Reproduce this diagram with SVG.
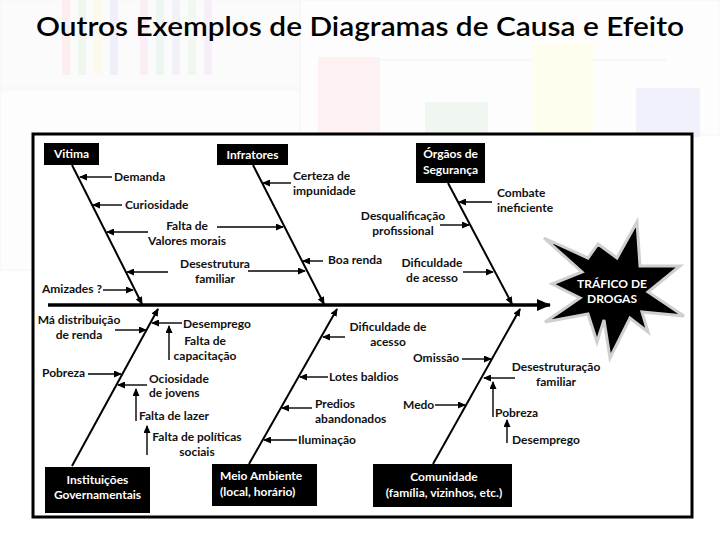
<svg xmlns="http://www.w3.org/2000/svg" width="720" height="540" viewBox="0 0 720 540">
<style>
.t{font-family:Lato,"Open Sans","Liberation Sans",sans-serif;font-weight:700;font-size:12px;fill:#111}
.c{text-anchor:middle}
.w{font-family:Lato,"Open Sans","Liberation Sans",sans-serif;font-weight:700;font-size:12px;fill:#fff}
.box{fill:#000}
.bone{stroke:#000;stroke-width:2;fill:none}
.ar{stroke:#000;stroke-width:1.4;fill:none;marker-end:url(#a)}
</style>
<defs>
<marker id="a" markerUnits="userSpaceOnUse" markerWidth="8" markerHeight="7" refX="7" refY="3.5" orient="auto"><path d="M0,0 L8,3.5 L0,7 z" fill="#000"/></marker>
<marker id="big" markerUnits="userSpaceOnUse" markerWidth="14" markerHeight="12" refX="13" refY="6" orient="auto"><path d="M0,0 L14,6 L0,12 z" fill="#000"/></marker>
</defs>
<rect width="720" height="540" fill="#fff"/>
<g id="background" opacity="0.6">
<rect x="0" y="0" width="300" height="88" fill="#fafafa" stroke="#eee"/>
<rect x="62" y="0" width="8" height="75" fill="#fbe3e3"/><rect x="78" y="0" width="8" height="75" fill="#e3f1e3"/><rect x="94" y="0" width="8" height="75" fill="#fbf7dd"/><rect x="110" y="0" width="8" height="75" fill="#e5e5f7"/><rect x="140" y="0" width="8" height="75" fill="#fbe3f1"/><rect x="156" y="0" width="8" height="75" fill="#e3f1ee"/><rect x="172" y="0" width="8" height="75" fill="#e9e9f3"/><rect x="188" y="0" width="8" height="75" fill="#e6f3e3"/><rect x="204" y="0" width="8" height="75" fill="#f3e6f3"/>
<rect x="0" y="90" width="300" height="180" fill="#fdfdfd" stroke="#eee"/>
<rect x="300" y="0" width="420" height="135" fill="#fdfdfd" stroke="#eee"/>
<line x1="380" y1="60" x2="666" y2="60" stroke="#e5e5e5"/>
<rect x="318" y="57" width="62" height="80" fill="#fde9e9"/>
<rect x="425" y="102" width="63" height="35" fill="#e7f2e7"/>
<rect x="531" y="44" width="62" height="93" fill="#fffde3"/>
<rect x="636" y="88" width="64" height="49" fill="#e9e9fb"/>
</g>
<text x="360" y="36" text-anchor="middle" font-family="Lato,'Open Sans','Liberation Sans',sans-serif" font-size="26" font-weight="600" fill="#000" textLength="648" lengthAdjust="spacingAndGlyphs">Outros Exemplos de Diagramas de Causa e Efeito</text>
<rect x="33" y="134" width="659" height="383" fill="#fff" stroke="#000" stroke-width="3"/>
<g id="effect">
<polygon points="598,244 617,258 637,222 640,266 680,266 648,292 684,316 642,312 648,332 630,318 610,358 604,320 597,342 588,314 545,322 580,298 552,284 582,272 544,238 588,258" fill="#000" stroke="#cfcfcf" stroke-width="3" stroke-linejoin="miter"/>
<text class="w c" x="612" y="288">TRÁFICO DE</text>
<text class="w c" x="612" y="303">DROGAS</text>
</g>
<g id="connectors">
<line x1="48" y1="305" x2="550" y2="305" stroke="#000" stroke-width="3.5" marker-end="url(#big)"/>
<line class="bone" x1="72" y1="165" x2="142" y2="304" marker-end="url(#a)"/>
<line class="bone" x1="253" y1="165" x2="324" y2="304" marker-end="url(#a)"/>
<line class="bone" x1="448" y1="183" x2="512" y2="304" marker-end="url(#a)"/>
<line class="bone" x1="72" y1="466" x2="158" y2="309" marker-end="url(#a)"/>
<line class="bone" x1="249" y1="464" x2="337" y2="309" marker-end="url(#a)"/>
<line class="bone" x1="433" y1="464" x2="520" y2="309" marker-end="url(#a)"/>
<line class="ar" x1="112" y1="177" x2="80" y2="177"/>
<line class="ar" x1="122" y1="205" x2="93" y2="205"/>
<line class="ar" x1="148" y1="232" x2="107" y2="232"/>
<line class="ar" x1="168" y1="272" x2="127" y2="272"/>
<line class="ar" x1="103" y1="290" x2="133" y2="290"/>
<line class="ar" x1="291" y1="183" x2="263" y2="183"/>
<line class="ar" x1="217" y1="227" x2="283" y2="227"/>
<line class="ar" x1="323" y1="261" x2="303" y2="261"/>
<line class="ar" x1="248" y1="271" x2="305" y2="271"/>
<line class="ar" x1="492" y1="202" x2="459" y2="202"/>
<line class="ar" x1="440" y1="225" x2="469" y2="225"/>
<line class="ar" x1="463" y1="272" x2="493" y2="272"/>
<line class="ar" x1="115" y1="330" x2="146" y2="330"/>
<line class="ar" x1="182" y1="323" x2="152" y2="323"/>
<line class="ar" x1="169" y1="360" x2="169" y2="326"/>
<line class="ar" x1="88" y1="374" x2="121" y2="374"/>
<line class="ar" x1="147" y1="385" x2="118" y2="385"/>
<line class="ar" x1="136" y1="421" x2="136" y2="389"/>
<line class="ar" x1="147" y1="455" x2="147" y2="426"/>
<line class="ar" x1="345" y1="337" x2="323" y2="337"/>
<line class="ar" x1="328" y1="377" x2="300" y2="377"/>
<line class="ar" x1="312" y1="408" x2="282" y2="408"/>
<line class="ar" x1="297" y1="440" x2="264" y2="440"/>
<line class="ar" x1="462" y1="359" x2="491" y2="359"/>
<line class="ar" x1="515" y1="378" x2="484" y2="378"/>
<line class="ar" x1="493" y1="417" x2="493" y2="382"/>
<line class="ar" x1="507" y1="443" x2="507" y2="420"/>
<line class="ar" x1="435" y1="405" x2="465" y2="405"/>
</g>
<g id="vitima"><rect class="box" x="44" y="143" width="55" height="22"/><text class="w c" x="71.5" y="158">Vitima</text></g>
<g id="infratores"><rect class="box" x="217" y="144" width="71" height="21"/><text class="w c" x="252.5" y="159">Infratores</text></g>
<g id="orgaos"><rect class="box" x="416" y="143" width="69" height="40"/><text class="w c" x="450.5" y="158">Órgãos de</text><text class="w c" x="450.5" y="174">Segurança</text></g>
<g id="instituicoes"><rect class="box" x="45" y="467" width="105" height="46"/><text class="w c" x="97.5" y="484">Instituições</text><text class="w c" x="97.5" y="499">Governamentais</text></g>
<g id="meio"><rect class="box" x="212" y="464" width="105" height="42"/><text class="w" x="220" y="480">Meio Ambiente</text><text class="w" x="220" y="496">(local, horário)</text></g>
<g id="comunidade"><rect class="box" x="373" y="464" width="139" height="43"/><text class="w c" x="444" y="481">Comunidade</text><text class="w c" x="444" y="497">(família, vizinhos, etc.)</text></g>
<g id="causes">
<text class="t" x="114" y="181">Demanda</text>
<text class="t" x="125" y="209">Curiosidade</text>
<text class="t c" x="187" y="230">Falta de</text>
<text class="t c" x="187" y="245">Valores morais</text>
<text class="t c" x="215" y="268">Desestrutura</text>
<text class="t c" x="215" y="283">familiar</text>
<text class="t" x="42" y="293">Amizades ?</text>
<text class="t" x="293" y="180">Certeza de</text>
<text class="t" x="293" y="195">impunidade</text>
<text class="t" x="328" y="264">Boa renda</text>
<text class="t" x="497" y="197">Combate</text>
<text class="t" x="497" y="212">ineficiente</text>
<text class="t c" x="403" y="220">Desqualificação</text>
<text class="t c" x="403" y="235">profissional</text>
<text class="t c" x="432" y="267">Dificuldade</text>
<text class="t c" x="432" y="282">de acesso</text>
<text class="t c" x="79" y="324">Má distribuição</text>
<text class="t c" x="79" y="339">de renda</text>
<text class="t" x="183" y="328">Desemprego</text>
<text class="t c" x="205" y="345">Falta de</text>
<text class="t c" x="205" y="360">capacitação</text>
<text class="t" x="42" y="377">Pobreza</text>
<text class="t" x="149" y="383">Ociosidade</text>
<text class="t" x="149" y="397">de jovens</text>
<text class="t" x="139" y="420">Falta de lazer</text>
<text class="t c" x="197" y="441">Falta de políticas</text>
<text class="t c" x="197" y="456">sociais</text>
<text class="t c" x="388" y="331">Dificuldade de</text>
<text class="t c" x="388" y="346">acesso</text>
<text class="t" x="329" y="381">Lotes baldios</text>
<text class="t" x="315" y="408">Predios</text>
<text class="t" x="315" y="423">abandonados</text>
<text class="t" x="298" y="444">Iluminação</text>
<text class="t" x="413" y="362">Omissão</text>
<text class="t c" x="556" y="371">Desestruturação</text>
<text class="t c" x="556" y="386">familiar</text>
<text class="t" x="403" y="409">Medo</text>
<text class="t" x="495" y="417">Pobreza</text>
<text class="t" x="512" y="444">Desemprego</text>
</g>
</svg>
